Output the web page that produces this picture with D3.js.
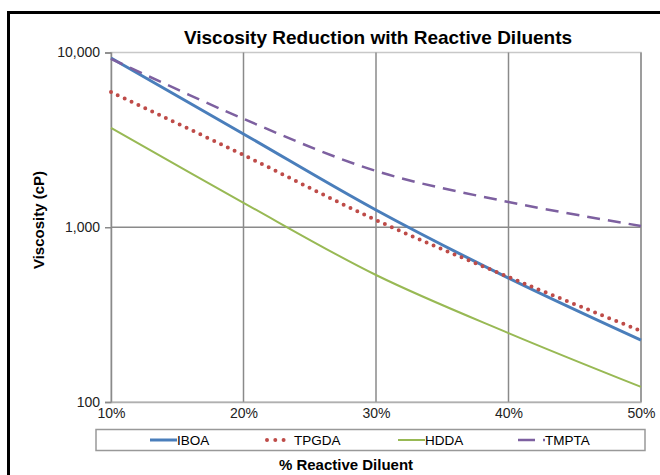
<!DOCTYPE html>
<html lang="en">
  <head>
    <meta charset="UTF-8" />
    <title>Viscosity Reduction with Reactive Diluents</title>
    <script src="https://d3js.org/d3.v7.min.js"></script>
    <style>
      body {
        margin: 0;
        background: #fff;
      }
      * {
        font-family: "Liberation Sans", Arial, sans-serif;
      }
      .title {
        font-size: 19px;
        font-weight: bold;
      }
      .axis-title {
        font-size: 15px;
        font-weight: bold;
      }
      .legend text {
        font-size: 13.5px;
      }
    </style>
  </head>
  <body></body>
  <script>
    const percents = [10, 20, 30, 40, 50];
    const iboa = [9300, 3420, 1255, 512, 226];
    const tpgda = [5940, 2590, 1100, 519, 255];
    const hdda = [3700, 1380, 533, 248, 122];
    const tmpta = [9200, 4170, 2100, 1395, 1017];
    const yTicks = [100, 1000, 10000];

    const series = [
      { name: "IBOA", values: iboa, color: "#4a7ebb", width: 3, dash: null },
      { name: "TPGDA", values: tpgda, color: "#be4b48", width: 4, dash: "0 7.6" },
      { name: "HDDA", values: hdda, color: "#98b954", width: 2, dash: null },
      { name: "TMPTA", values: tmpta, color: "#7d60a0", width: 2.5, dash: "13 8" },
    ];

    const svg = d3
      .select("body")
      .append("svg")
      .attr("width", 660)
      .attr("height", 475);

    // outer frame
    svg
      .append("rect")
      .attr("x", 8.5)
      .attr("y", 12.5)
      .attr("width", 700)
      .attr("height", 500)
      .attr("fill", "none")
      .attr("stroke", "#000")
      .attr("stroke-width", 3);

    const plotLeft = 111,
      plotRight = 641,
      plotTop = 52.5,
      plotBottom = 402;

    const x = d3.scaleLinear().domain([10, 50]).range([plotLeft, plotRight]);
    const y = d3.scaleLog().domain([100, 10000]).range([plotBottom, plotTop]);

    // plot frame
    svg
      .append("rect")
      .attr("x", plotLeft)
      .attr("y", plotTop)
      .attr("width", plotRight - plotLeft)
      .attr("height", plotBottom - plotTop)
      .attr("fill", "#fff")
      .attr("stroke", "#c8c8c8")
      .attr("stroke-width", 1.5);

    // gridlines
    svg
      .append("g")
      .selectAll("line")
      .data(percents.slice(1))
      .enter()
      .append("line")
      .attr("x1", (d) => x(d))
      .attr("x2", (d) => x(d))
      .attr("y1", plotTop)
      .attr("y2", plotBottom)
      .attr("stroke", "#8a8a8a")
      .attr("stroke-width", 1.5);

    svg
      .append("g")
      .selectAll("line")
      .data([1000])
      .enter()
      .append("line")
      .attr("x1", plotLeft)
      .attr("x2", plotRight)
      .attr("y1", (d) => y(d))
      .attr("y2", (d) => y(d))
      .attr("stroke", "#8a8a8a")
      .attr("stroke-width", 1.5);

    // axes
    const yAxis = svg
      .append("g")
      .attr("transform", `translate(${plotLeft},0)`)
      .call(
        d3
          .axisLeft(y)
          .tickValues(yTicks)
          .tickFormat(d3.format(","))
          .tickSize(6)
          .tickPadding(5)
      );
    yAxis.select(".domain").attr("stroke", "#8a8a8a").attr("stroke-width", 1.5);
    yAxis.selectAll(".tick line").attr("stroke", "#8a8a8a").attr("stroke-width", 1.5);

    const xAxis = svg
      .append("g")
      .attr("transform", `translate(0,${plotBottom})`)
      .call(
        d3
          .axisBottom(x)
          .tickValues(percents)
          .tickFormat((d) => d + "%")
          .tickSize(0)
          .tickPadding(6)
      );
    xAxis.select(".domain").attr("stroke", "#b0b0b0").attr("stroke-width", 1.5);

    svg
      .selectAll(".tick text")
      .style("font-size", "14px")
      .style("font-family", "'Liberation Sans', Arial, sans-serif")
      .attr("fill", "#222");

    // lines
    const line = d3
      .line()
      .x((d, i) => x(percents[i]))
      .y((d) => y(d))
      .curve(d3.curveCatmullRom);

    const isDots = (s) => s.dash && s.dash.startsWith("0");

    series.forEach(function (s) {
      svg
        .append("path")
        .datum(s.values)
        .attr("d", line)
        .attr("fill", "none")
        .attr("stroke", s.color)
        .attr("stroke-width", s.width)
        .attr("stroke-linecap", isDots(s) ? "round" : "butt")
        .attr("stroke-dasharray", s.dash);
    });

    // title
    svg
      .append("text")
      .attr("class", "title")
      .attr("x", 378)
      .attr("y", 44)
      .attr("text-anchor", "middle")
      .text("Viscosity Reduction with Reactive Diluents");

    svg
      .append("text")
      .attr("class", "axis-title")
      .attr("transform", "translate(44,220) rotate(-90)")
      .attr("text-anchor", "middle")
      .text("Viscosity (cP)");

    svg
      .append("text")
      .attr("class", "axis-title")
      .attr("x", 346)
      .attr("y", 470)
      .attr("text-anchor", "middle")
      .text("% Reactive Diluent");

    // legend
    const legend = svg.append("g").attr("class", "legend");
    legend
      .append("rect")
      .attr("x", 96)
      .attr("y", 429.5)
      .attr("width", 549)
      .attr("height", 21)
      .attr("fill", "#fff")
      .attr("stroke", "#999")
      .attr("stroke-width", 1.5);

    const legendX = [150, 265, 398, 518];
    const ly = 440;
    series.forEach(function (s, i) {
      const g = legend.append("g").attr("transform", `translate(${legendX[i]},${ly})`);
      g.append("line")
        .attr("x1", isDots(s) ? 2 : 0)
        .attr("x2", isDots(s) ? 19 : 27)
        .attr("stroke", s.color)
        .attr("stroke-width", s.width)
        .attr("stroke-linecap", isDots(s) ? "round" : "butt")
        .attr("stroke-dasharray", s.dash ? (isDots(s) ? "0 8.3" : "17 8") : null);
      g.append("text")
        .attr("x", isDots(s) ? 29 : 27)
        .attr("dy", "0.36em")
        .text(s.name);
    });
  </script>
</html>
